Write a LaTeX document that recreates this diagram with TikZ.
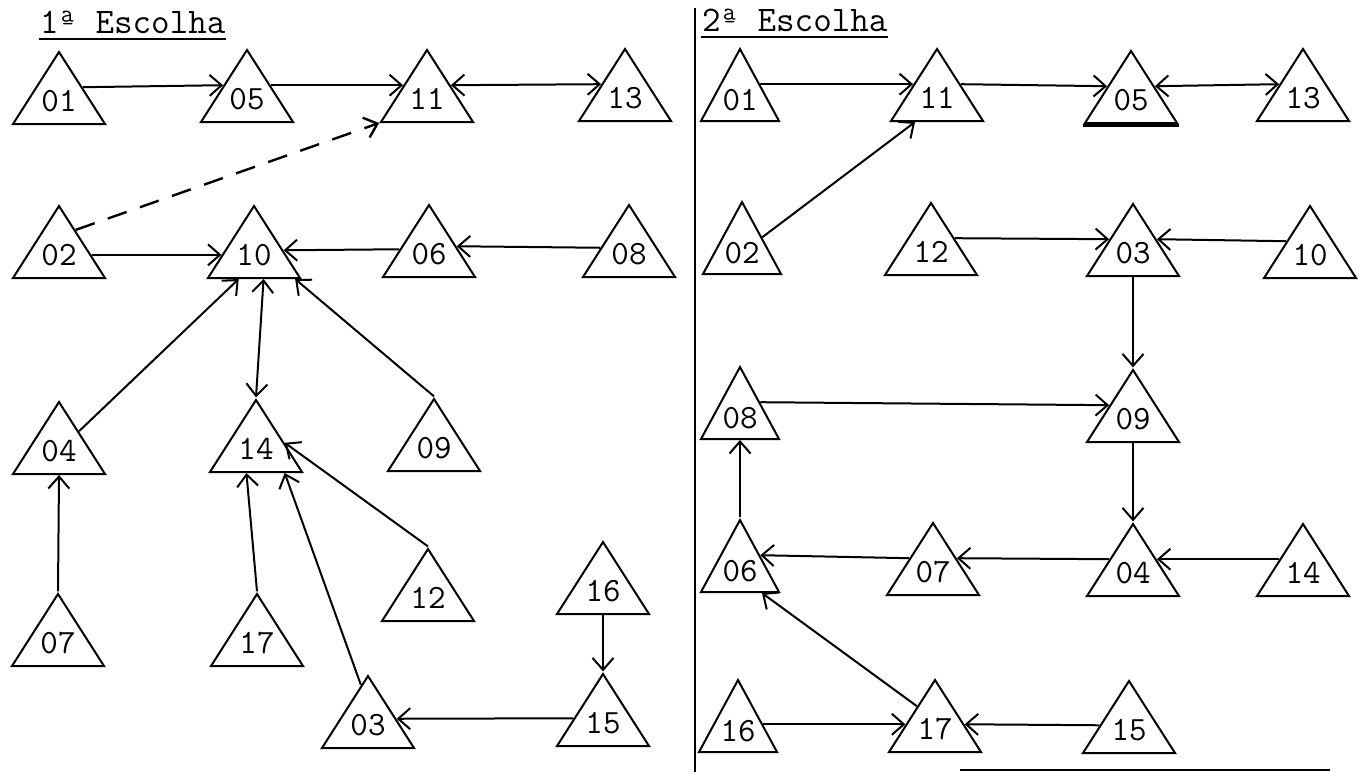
\documentclass[tikz,border=0pt]{standalone}
\usetikzlibrary{shapes.geometric,arrows.meta,calc}

\begin{document}
\begin{tikzpicture}[x=1pt,y=-1pt,line width=2pt,>={Straight Barb[length=12pt,width=21pt]},
  tri/.style={draw,isosceles triangle,isosceles triangle stretches,shape border rotate=90,
    minimum width=92pt,minimum height=72pt,inner sep=0pt,anchor=lower side,text depth=6pt,
    font=\ttfamily\fontsize{34}{34}\selectfont},
  slim/.style={tri,minimum width=78pt},
  ttl/.style={anchor=base west,inner sep=0pt,font=\ttfamily\fontsize{36}{36}\selectfont},
  dsh/.style={dash pattern=on 20pt off 14pt,line width=2.4pt}]
  \useasboundingbox (0,0) rectangle (1359,772);
  % 1a escolha
  \node[ttl] (t1) at (39,33) {1ª Escolha};
  \draw[line width=1.6pt] ([yshift=-6pt]t1.base west) -- ([yshift=-6pt]t1.base east);
  \node[tri] (L01) at (59,125) {01};
  \node[tri] (L05) at (247,123) {05};
  \node[tri] (L11) at (427,123) {11};
  \node[tri] (L13) at (625,122) {13};
  \node[tri] (L02) at (59,279) {02};
  \node[tri] (L10) at (254,279) {10};
  \node[tri] (L06) at (429,278) {06};
  \node[tri] (L08) at (629,278) {08};
  \node[tri] (L04) at (59,475) {04};
  \node[tri] (L14) at (256,473) {14};
  \node[tri] (L09) at (434,472) {09};
  \node[tri] (L07) at (58,667) {07};
  \node[tri] (L17) at (257,667) {17};
  \node[tri] (L12) at (428,622) {12};
  \node[tri] (L16) at (603,615) {16};
  \node[tri] (L03) at (368,749) {03};
  \node[tri] (L15) at (603,747) {15};
  \draw[->] (L01.right side) -- (L05.left side);
  \draw[->] (L05.right side) -- (L11.left side);
  \draw[<->] (L11.right side) -- (L13.left side);
  \draw[->,dsh] ($(L02.apex)!.35!(L02.right corner)$) -- (L11.left corner);
  \draw[->] ($(L02.apex)!.68!(L02.right corner)$) -- ($(L10.apex)!.68!(L10.left corner)$);
  \draw[->] ($(L06.apex)!.62!(L06.left corner)$) -- ($(L10.apex)!.62!(L10.right corner)$);
  \draw[->] ($(L08.apex)!.6!(L08.left corner)$) -- ($(L06.apex)!.58!(L06.right corner)$);
  \draw[->] ($(L04.apex)!.42!(L04.right corner)$) -- ($(L10.left corner)!.34!(L10.right corner)$);
  \draw[<->] ($(L10.left corner)!.6!(L10.right corner)$) -- (L14.apex);
  \draw[->] (L09.apex) -- ($(L10.left corner)!.93!(L10.right corner)$);
  \draw[->] (L12.apex) -- ($(L14.apex)!.6!(L14.right corner)$);
  \draw[->] (L07.apex) -- (L04.lower side);
  \draw[->] (L17.apex) -- ($(L14.left corner)!.4!(L14.right corner)$);
  \draw[->] ($(L03.apex)!.15!(L03.left corner)$) -- ($(L14.left corner)!.8!(L14.right corner)$);
  \draw[->] (L16.lower side) -- (L15.apex);
  \draw[->] ($(L15.apex)!.62!(L15.left corner)$) -- ($(L03.apex)!.6!(L03.right corner)$);
  % 2a escolha
  \draw[line width=2.6pt] (695,8) -- (695,772);
  \node[ttl] (t2) at (701,31) {2ª Escolha};
  \draw[line width=1.6pt] ([yshift=-6pt]t2.base west) -- ([yshift=-6pt]t2.base east);
  \node[slim] (R01) at (740,122) {01};
  \node[tri] (R11) at (937,122) {11};
  \node[tri] (R05) at (1131,124) {05};
  \node[tri] (R13) at (1303,122) {13};
  \node[slim] (R02) at (742,275) {02};
  \node[tri] (R12) at (931,276) {12};
  \node[tri] (R03) at (1133,277) {03};
  \node[tri] (R10) at (1310,279) {10};
  \node[slim] (R08) at (740,440) {08};
  \node[tri] (R09) at (1133,443) {09};
  \node[slim] (R06) at (740,593) {06};
  \node[tri] (R07) at (933,596) {07};
  \node[tri] (R04) at (1133,597) {04};
  \node[tri] (R14) at (1303,597) {14};
  \node[slim] (R16) at (738,753) {16};
  \node[tri] (R17) at (935,753) {17};
  \node[tri] (R15) at (1129,754) {15};
  \draw[line width=3pt] ([yshift=-1.5pt]R05.left corner) -- ([yshift=-1.5pt]R05.right corner);
  \draw[->] (R01.right side) -- (R11.left side);
  \draw[->] (R11.right side) -- (R05.left side);
  \draw[<->] (R05.right side) -- (R13.left side);
  \draw[->] (R02.right side) -- ($(R11.left corner)!.27!(R11.right corner)$);
  \draw[->] (R12.right side) -- (R03.left side);
  \draw[->] (R10.left side) -- (R03.right side);
  \draw[->] (R03.lower side) -- (R09.apex);
  \draw[->] (R08.right side) -- (R09.left side);
  \draw[->] (R09.lower side) -- (R04.apex);
  \draw[->] (R06.apex) -- (R08.lower side);
  \draw[->] (R07.left side) -- (R06.right side);
  \draw[->] (R04.left side) -- (R07.right side);
  \draw[->] (R14.left side) -- (R04.right side);
  \draw[->] ($(R17.apex)!.38!(R17.left corner)$) -- ($(R06.left corner)!.77!(R06.right corner)$);
  \draw[->] ($(R16.apex)!.62!(R16.right corner)$) -- ($(R17.apex)!.62!(R17.left corner)$);
  \draw[->] ($(R15.apex)!.62!(R15.left corner)$) -- ($(R17.apex)!.62!(R17.right corner)$);
  \draw[line width=1.6pt] (960,770) -- (1330,770);
\end{tikzpicture}
\end{document}
